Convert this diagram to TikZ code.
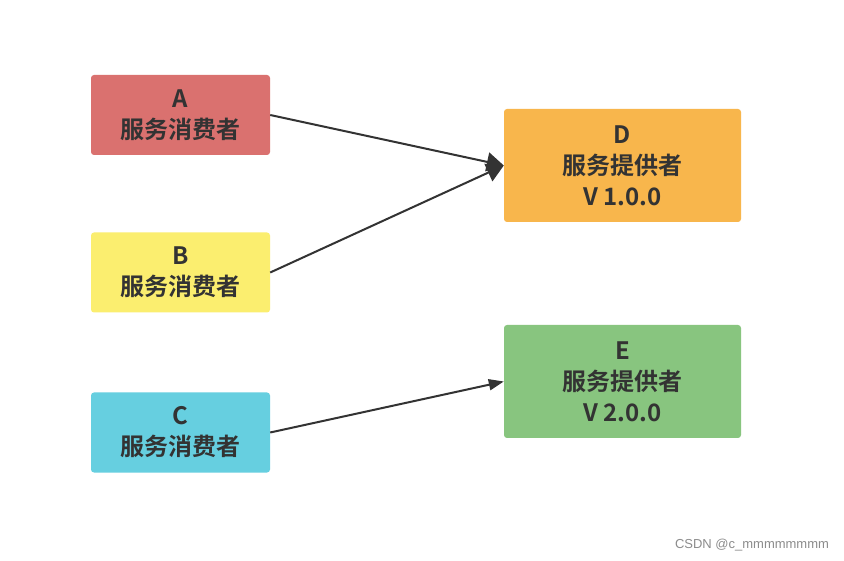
\documentclass[tikz,border=0pt]{standalone}
\usepackage{fontspec}
\newfontfamily\cjk{Noto Sans CJK SC}[BoldFont={Noto Sans CJK SC Bold}]
\newfontfamily\latinsans{Liberation Sans}
\usetikzlibrary{arrows.meta}
\definecolor{cA}{HTML}{DA716F}
\definecolor{cB}{HTML}{FBEE6F}
\definecolor{cC}{HTML}{66CFE0}
\definecolor{cD}{HTML}{F8B64C}
\definecolor{cE}{HTML}{88C57F}
\definecolor{txt}{HTML}{333333}
\tikzset{
  box/.style={rectangle, rounded corners=3pt, inner sep=0pt, align=center,
    font=\cjk\bfseries\fontsize{24}{31}\selectfont, text=txt},
  consumer/.style={box, minimum width=179pt, minimum height=80pt},
  provider/.style={box, minimum width=237pt, minimum height=113pt},
  conn/.style={draw=txt, line width=2pt, -{Triangle[length=17pt,width=19pt]}},
  connsmall/.style={draw=txt, line width=2pt, -{Triangle[length=15pt,width=11pt]}}
}
\begin{document}
\begin{tikzpicture}[x=1pt,y=-1pt]
\useasboundingbox (0,0) rectangle (844,561);
\fill[white] (0,0) rectangle (844,561);
\node[consumer, fill=cA] (A) at (180.5,115) {A\\服务消费者};
\node[consumer, fill=cB] (B) at (180.5,272.5) {B\\服务消费者};
\node[consumer, fill=cC] (C) at (180.5,432.5) {C\\服务消费者};
\node[provider, fill=cD] (D) at (622.5,165.5) {D\\服务提供者\\V 1.0.0};
\node[provider, fill=cE] (E) at (622.5,381.5) {E\\服务提供者\\V 2.0.0};
\draw[conn] (A.east) -- (D.west);
\draw[conn] (B.east) -- (D.west);
\draw[connsmall] (C.east) -- (E.west);
\node[font=\latinsans\fontsize{13}{13}\selectfont, text={rgb,255:red,140;green,140;blue,140}, inner sep=0pt] (csdn) at (752,545) {CSDN @c\_mmmmmmmm};
\end{tikzpicture}
\end{document}
